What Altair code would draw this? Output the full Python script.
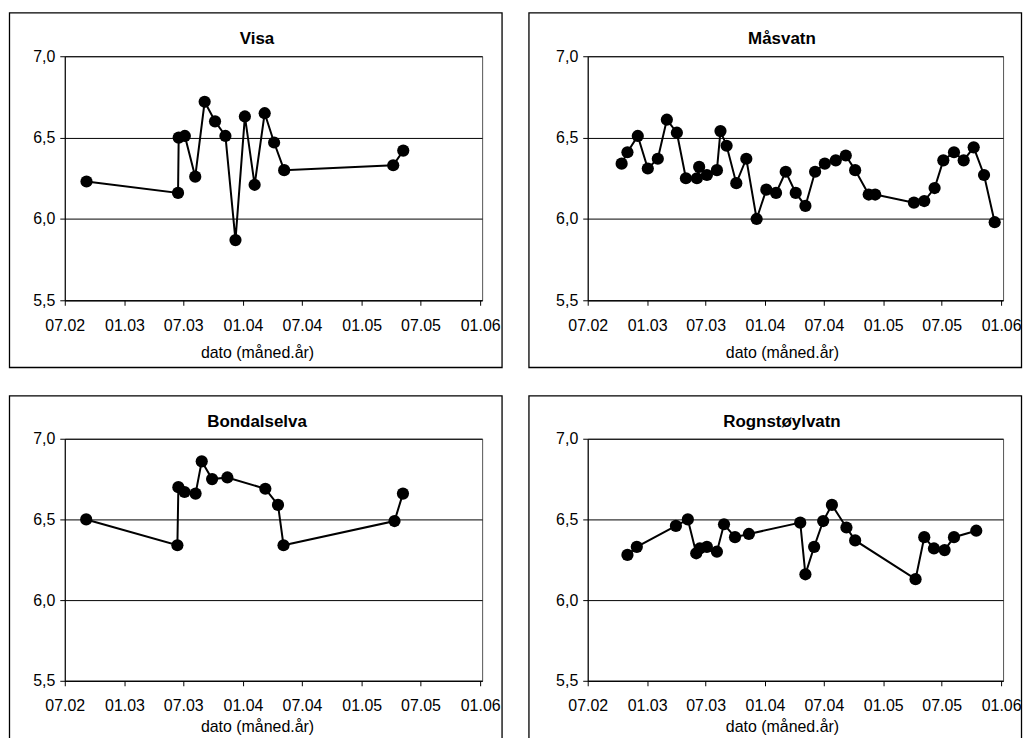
import altair as alt
import pandas as pd

FONT = "Liberation Sans"

# ---- data -------------------------------------------------------------
visa_dates = ["2002-09-06", "2003-06-15", "2003-06-17", "2003-07-06", "2003-08-07",
              "2003-09-05", "2003-10-07", "2003-11-08", "2003-12-09", "2004-01-07",
              "2004-02-06", "2004-03-08", "2004-04-06", "2004-05-07", "2005-04-08",
              "2005-05-09"]
visa_ph = [6.23, 6.16, 6.50, 6.51, 6.26, 6.72, 6.60, 6.51, 5.87, 6.63,
           6.21, 6.65, 6.47, 6.30, 6.33, 6.42]

masvatn_dates = ["2002-10-14", "2002-11-01", "2002-12-03", "2003-01-03", "2003-02-03",
                 "2003-03-03", "2003-04-03", "2003-05-01", "2003-06-04", "2003-06-11",
                 "2003-07-05", "2003-08-05", "2003-08-16", "2003-09-04", "2003-10-04",
                 "2003-11-04", "2003-12-06", "2004-01-05", "2004-02-04", "2004-03-05",
                 "2004-04-05", "2004-05-05", "2004-06-04", "2004-07-04", "2004-08-07",
                 "2004-09-07", "2004-10-06", "2004-11-17", "2004-12-07", "2005-04-06",
                 "2005-05-08", "2005-06-09", "2005-07-06", "2005-08-08", "2005-09-07",
                 "2005-10-08", "2005-11-09", "2005-12-12"]
masvatn_ph = [6.34, 6.41, 6.51, 6.31, 6.37, 6.61, 6.53, 6.25, 6.25, 6.32,
              6.27, 6.30, 6.54, 6.45, 6.22, 6.37, 6.00, 6.18, 6.16, 6.29,
              6.16, 6.08, 6.29, 6.34, 6.36, 6.39, 6.30, 6.15, 6.15, 6.10,
              6.11, 6.19, 6.36, 6.41, 6.36, 6.44, 6.27, 5.98]

bondal_dates = ["2002-09-05", "2003-06-13", "2003-06-16", "2003-07-05", "2003-08-08",
                "2003-08-27", "2003-09-28", "2003-11-14", "2004-03-10", "2004-04-18",
                "2004-05-05", "2005-04-12", "2005-05-08"]
bondal_ph = [6.50, 6.34, 6.70, 6.67, 6.66, 6.86, 6.75, 6.76, 6.69, 6.59,
             6.34, 6.49, 6.66]

rogn_dates = ["2002-11-01", "2002-11-30", "2003-03-31", "2003-05-07", "2003-06-02",
              "2003-06-13", "2003-07-05", "2003-08-05", "2003-08-27", "2003-09-30",
              "2003-11-12", "2004-04-19", "2004-05-05", "2004-06-01", "2004-06-29",
              "2004-07-26", "2004-09-09", "2004-10-06", "2005-04-11", "2005-05-08",
              "2005-06-07", "2005-07-10", "2005-08-08", "2005-10-16"]
rogn_ph = [6.28, 6.33, 6.46, 6.50, 6.29, 6.32, 6.33, 6.30, 6.47, 6.39,
           6.41, 6.48, 6.16, 6.33, 6.49, 6.59, 6.45, 6.37, 6.13, 6.39,
           6.32, 6.31, 6.39, 6.43]

x_tick_months = [(2002, 7), (2003, 1), (2003, 7), (2004, 1),
                 (2004, 7), (2005, 1), (2005, 7), (2006, 1)]
y_ticks = [5.5, 6.0, 6.5, 7.0]
x_title = "dato (måned.år)"


def dt(y, m, d=1):
    return alt.DateTime(year=y, month=m, date=d, utc=True)


# panel geometry (left column / right column)
LEFT = dict(w=419, bx0=-55.5, bx1=439.0, cx=193)
RIGHT = dict(w=417, bx0=-59.0, bx1=435.5, cx=195)


def panel(name, dates, values, geo, h, btop, bbottom, title_y):
    df = pd.DataFrame({"dato": dates, "pH": values})
    x = alt.X(
        "dato:T",
        scale=alt.Scale(type="utc", domain=[dt(2002, 7, 1), dt(2006, 1, 7)]),
        axis=alt.Axis(
            values=[dt(y, m) for y, m in x_tick_months],
            format="%m.%y",
            title=x_title,
            titleX=geo["cx"], titleY=title_y, titleAlign="center",
            titleBaseline="alphabetic",
            titleFont=FONT, titleFontSize=16, titleFontWeight="normal",
            titleColor="black",
            labelFont=FONT, labelFontSize=16, labelColor="black",
            labelPadding=12, labelFlush=False, labelOverlap=False,
            tickSize=5, tickColor="black", domainColor="black",
            grid=False,
        ),
    )
    y = alt.Y(
        "pH:Q",
        scale=alt.Scale(domain=[5.5, 7.0], nice=False, zero=False),
        axis=alt.Axis(
            values=y_ticks,
            labelExpr="replace(format(datum.value, '.1f'), '.', ',')",
            title=None,
            labelFont=FONT, labelFontSize=16, labelColor="black",
            labelPadding=5, tickSize=5, tickColor="black", domainColor="black",
            grid=True, gridColor="black", gridWidth=1,
        ),
    )
    base = alt.Chart(df).encode(x=x, y=y)
    line = base.mark_line(color="black", strokeWidth=2)
    pts = base.mark_circle(size=150, color="black", opacity=1)

    border = alt.Chart(pd.DataFrame({"b": [0]})).mark_rect(
        fillOpacity=0, stroke="black", strokeWidth=1.3
    ).encode(x=alt.value(geo["bx0"]), x2=alt.value(geo["bx1"]),
             y=alt.value(btop), y2=alt.value(bbottom))

    title = alt.Chart(pd.DataFrame({"t": [name]})).mark_text(
        font=FONT, fontSize=17, fontWeight="bold", align="center",
        baseline="alphabetic", color="black"
    ).encode(text="t:N", x=alt.value(geo["cx"]), y=alt.value(-12))

    return alt.layer(border, line, pts, title).properties(width=geo["w"], height=h)


top = alt.hconcat(
    panel("Visa", visa_dates, visa_ph, LEFT, 245, -43.5, 312.5, 57),
    panel("Måsvatn", masvatn_dates, masvatn_ph, RIGHT, 245, -43.5, 312.5, 57),
    spacing=23,
)
bottom = alt.hconcat(
    panel("Bondalselva", bondal_dates, bondal_ph, LEFT, 243, -43, 313, 51),
    panel("Rognstøylvatn", rogn_dates, rogn_ph, RIGHT, 243, -43, 313, 51),
    spacing=23,
)

chart = alt.vconcat(top, bottom, spacing=25).properties(
    padding={"left": 0, "top": 2, "right": 0, "bottom": -16},
    background="white",
).configure_view(stroke="#555555", strokeWidth=1)

chart.save("out.html", embed_options={"renderer": "svg", "actions": False})
